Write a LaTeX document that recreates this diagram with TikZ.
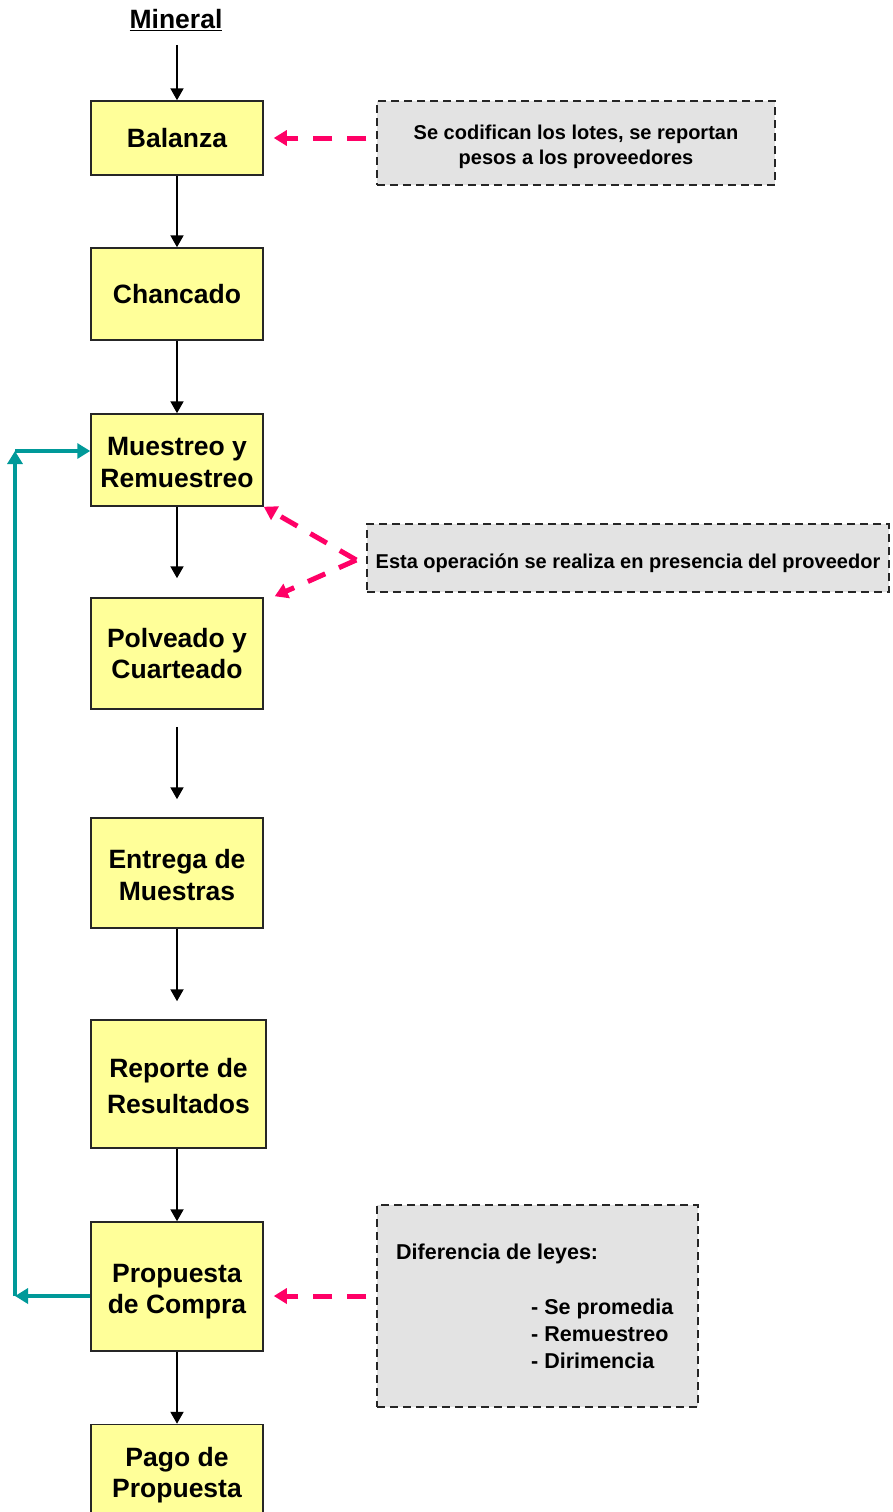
\documentclass[tikz,border=0pt]{standalone}
\usepackage{fontspec}
\setmainfont{Liberation Sans}
\usetikzlibrary{arrows.meta}
\definecolor{amarillo}{HTML}{FFFF99}
\definecolor{gris}{HTML}{E3E3E3}
\definecolor{rosa}{HTML}{FF0066}
\definecolor{turquesa}{HTML}{009999}
\tikzset{
  etapa/.style={shape=rectangle,draw=black!85,line width=1.5pt,fill=amarillo,
    minimum width=172pt,inner sep=0pt,align=center,
    font=\fontsize{26.5}{31.5}\selectfont\bfseries},
  nota/.style={shape=rectangle,draw=black!85,line width=1.4pt,
    dash pattern=on 8pt off 5pt,fill=gris,inner sep=0pt,align=center,
    font=\fontsize{20}{25}\selectfont\bfseries},
  texto/.style={inner sep=0pt,align=left,font=\fontsize{21.5}{27}\selectfont\bfseries},
  flujo/.style={-{Triangle[length=12pt,width=13pt]},line width=2pt},
  aviso/.style={-{Triangle[length=13pt,width=15pt]},line width=5pt,rosa,
    dash pattern=on 19pt off 15pt},
  retorno/.style={-{Triangle[length=13pt,width=15pt]},line width=4pt,turquesa}
}
\begin{document}
\begin{tikzpicture}[x=1pt,y=-1pt]
\useasboundingbox (0,0) rectangle (893,1512);
\node(mineral) at (176,20)[inner sep=0pt,font=\fontsize{26.5}{31}\selectfont\bfseries]{\underline{Mineral}};
\node(balanza)   at (177,138)   [etapa,minimum height=74pt]  {Balanza};
\node(chancado)  at (177,294)   [etapa,minimum height=92pt]  {Chancado};
\node(muestreo)  at (177,460)   [etapa,minimum height=92pt]  {\rule{0pt}{23pt}Muestreo y\\Remuestreo};
\node(polveado)  at (177,653.5) [etapa,minimum height=111pt] {Polveado y\\Cuarteado};
\node(entrega)   at (177,873)   [etapa,minimum height=110pt] {\rule{0pt}{23pt}Entrega de\\Muestras};
\node(reporte)   at (178.5,1084)[etapa,minimum width=175pt,minimum height=128pt] {\rule{0pt}{23pt}Reporte de\\[5pt]Resultados};
\node(propuesta) at (177,1286.5)[etapa,minimum height=129pt] {\rule{0pt}{28pt}Propuesta\\de Compra};
\node(pago)      at (177,1472)  [etapa,minimum height=95pt]  {\rule{0pt}{25pt}Pago de\\Propuesta};

% notas
\node(codifica)  at (576,143)   [nota,minimum width=398pt,minimum height=84pt]
  {\rule{0pt}{22.5pt}Se codifican los lotes, se reportan\\pesos a los proveedores};
\node(operacion) at (628,558)   [nota,minimum width=522pt,minimum height=68pt,text height=23pt,text depth=1.5pt]
  {Esta operación se realiza en presencia del proveedor};
\node(leyes)     at (537.5,1306)[nota,minimum width=321pt,minimum height=202pt] {};
\node(titulo)    at (396,1254)  [texto,anchor=west] {Diferencia de leyes:};
\node(casos)     at (531,1334)  [texto,anchor=west] {- Se promedia\\- Remuestreo\\- Dirimencia};

\path [flujo]
  (mineral.south -| balanza.north) edge [shorten <=14pt]   (balanza)
  (balanza)         edge                                   (chancado)
  (chancado)        edge                                   (muestreo)
  (muestreo)        edge [shorten >=19pt]                  (polveado)
  (polveado)        edge [shorten <=17pt,shorten >=18pt]   (entrega)
  (entrega.south)   edge [shorten >=18pt]                  (entrega.south |- reporte.north)
  (propuesta.north |- reporte.south) edge                  (propuesta.north)
  (propuesta)       edge                                   (pago);

\coordinate(salida)     at (balanza.east -| codifica.west);
\coordinate(vertice)    at ([xshift=-10pt,yshift=-2pt]operacion.west);
\coordinate(entradaley) at ([yshift=10pt]leyes.west);
\path [aviso]
  (salida)     edge [shorten <=10pt,shorten >=10pt] (balanza.east)
  (vertice)    edge                                 (muestreo.south east)
  (vertice)    edge                                 ([xshift=11pt,yshift=1pt]polveado.north east)
  (entradaley) edge [shorten <=10pt,shorten >=10pt] (entradaley -| propuesta.east);

\coordinate(abajo)  at (15,1296);
\coordinate(arriba) at (15,451);
\path [retorno]
  (abajo -| propuesta.west) edge (abajo)
  (abajo)                   edge (arriba)
  (arriba)                  edge (arriba -| muestreo.west);

\end{tikzpicture}
\end{document}
